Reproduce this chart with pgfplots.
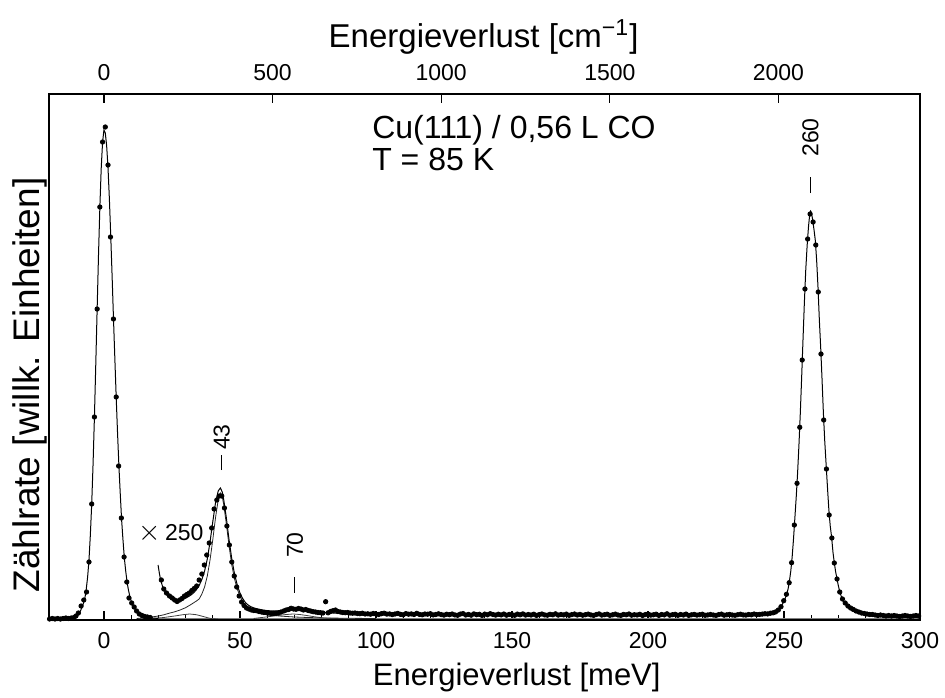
\documentclass[border=0pt]{standalone}
\usepackage{fontspec}
\setmainfont{Liberation Sans}
\usepackage{pgfplots}
\pgfplotsset{compat=1.18}
\begin{document}
\begin{tikzpicture}
\begin{axis}[
  scale only axis, width=435.5pt, height=263pt,
  xmin=-20.2, xmax=300, ymin=0, ymax=526,
  axis line style={line width=0.8pt},
  xtick={0,50,...,300}, minor x tick num=4,
  xtick pos=bottom, ytick=\empty,
  tick align=inside,
  major tick length=4.5pt, minor tick length=2.5pt,
  every tick/.style={black, line width=0.6pt},
  /pgf/number format/assume math mode=true,
  /pgf/number format/1000 sep={},
  xticklabel style={font=\fontsize{11.5}{12}\selectfont, yshift=-2.5pt},
  xlabel={Energieverlust [meV]},
  xlabel style={font=\fontsize{15.5}{17}\selectfont, at={(axis description cs:0.537,0)}, anchor=center, yshift=-28.5pt},
  ylabel={Zählrate [willk. Einheiten]},
  ylabel style={font=\fontsize{18.5}{20}\selectfont, at={(axis description cs:-0.0218,0.447)}, anchor=center},
]
\coordinate (bl) at (rel axis cs:0,0);
\coordinate (tr) at (rel axis cs:1,1);
% baseline component
\addplot[gray, line width=0.4pt] coordinates {(12,1.8) (300,1.8)};
% component 30 meV
\addplot[black!75, line width=0.4pt] coordinates {
(14,1) (18,1.5) (22,2.5) (26,4) (29,5.3) (31.5,6) (34,5.3) (36.5,3.5) (38.5,2) (40,1.2) (42,1)};
% component 70 meV
\addplot[black!75, line width=0.4pt] coordinates {
(55,1.5) (58,2.5) (61,3.5) (64,4.5) (67,5.5) (69.5,6) (72,5.5) (75,4.3) (78,3) (81,2) (84,1.5) (88,1.2)};
% component 43 meV
\addplot[black!85, line width=0.4pt] coordinates {
(12,1.5) (14,2) (16,2.5) (18,3.2) (20,4) (22,5.2) (24,6.8) (26,8.2) (28,10) (30,12.3) (32,15.5) (34,19)
(35,21) (36,26) (37,33) (38,44) (39,60) (40,80) (41,102) (42,120) (42.8,127) (43.5,123) (44,116)
(45,96) (46,74) (47,55) (48,41) (49,31) (50,24) (51,18.5) (52,15) (53,12.5) (54,10.5) (56,8.2)
(58,6.6) (60,5.5) (62,4.7) (65,3.9) (70,3) (75,2.5) (80,2.1) (90,1.7) (100,1.5)};
% elastic fit
\addplot[black, line width=0.5pt] coordinates {
(-20.2,0.5) (-14,0.8) (-12,1.2) (-11,2) (-10,3.5) (-9.5,5) (-9,7) (-8.5,10) (-8,13) (-7.5,17) (-7,22)
(-6.5,31) (-6,43) (-5.5,60) (-5,85) (-4.5,116) (-4,156) (-3.5,203) (-3,256) (-2.5,311) (-2,365)
(-1.5,413) (-1,452) (-0.5,478) (0,490) (0.5,487) (1,474) (1.5,452) (2,421) (2.5,384) (3,344)
(3.5,302) (4,262) (4.5,223) (5,187) (5.5,154) (6,126) (6.5,100) (7,80) (7.5,62) (8,49) (8.5,38)
(9,30) (9.5,24) (10,19) (10.5,15.5) (11,12.5) (12,8.5) (13,6) (14,4.5) (15,3.5) (16,2.8) (18,2) (20,1.5)};
% x250 total fit
\addplot[black, line width=0.5pt] coordinates {
(19.9,55) (20.3,48) (20.7,42) (21,38.5) (21.5,34) (22,30.5) (23,25.5) (24,22.5) (25,20.5) (26,19.5)
(27,19.3) (28,19.7) (29,20.5) (30,21.8) (31,23.3) (32,25) (33,27.3) (34,30.3) (35,34.5) (36,40.5)
(37,49) (38,61) (39,78) (40,98) (41,117) (42,129) (42.8,132) (43.5,128) (44,121) (45,102) (46,80)
(47,61) (48,46) (49,35) (50,27) (51,21.5) (52,17.5) (53,15) (54,13.3) (55,12.2) (56,11.4) (58,10.2)
(60,9.4) (62,9) (64,9.1) (66,9.6) (68,10.1) (70,10.3) (72,10) (74,9.4) (76,8.7) (78,8.1) (80,7.6)
(85,6.9) (90,6.5) (100,6) (120,5.6) (150,5.3) (180,5.1) (210,5) (230,5.1) (240,5.6) (244,6.5)
(246,7.5) (247,8.5) (248,10) (249,13.5) (250,19) (250.5,22) (251,26) (251.5,31) (252,39) (252.5,49)
(253,63) (253.5,81) (254,102) (254.5,123) (255,147) (255.5,175) (256,207) (256.5,243) (257,281)
(257.5,318) (258,350) (258.5,374) (259,393) (259.5,407) (259.8,409) (260,408) (260.5,401) (261,391)
(261.5,380) (262,360) (262.5,333) (263,300) (263.5,272) (264,240) (264.5,206) (265,178) (265.5,155)
(266,132) (266.5,110) (267,94) (267.5,83) (268,68) (268.5,57) (269,48) (269.5,41) (270,34)
(270.5,28.5) (271,24) (271.5,21) (272,18.5) (273,15) (274,12.5) (276,9.5) (278,7.5) (280,6.3)
(285,5) (290,4.5) (300,4)};
% elastic data
\addplot[only marks, mark=*, mark size=1.1pt, black] coordinates {
(-20,1) (-19,1.5) (-18,1) (-17,1.5) (-16,1) (-15,1.5) (-14,2) (-13,1.5) (-12,2) (-11,2.5) (-10.3,4)
(-9.4,7) (-8.4,14) (-7.4,20) (-6.4,28) (-5.5,58) (-4.5,116) (-3.5,203) (-2.5,311) (-1.5,413)
(-0.5,478) (0.5,493) (1.5,455) (2.4,383) (3.5,301) (4.5,223) (5.4,154) (6.4,102) (7.4,63)
(8.4,38) (9.2,22) (10.2,17) (11.1,13) (12,9) (13,6) (14,4.5) (15,3.5) (16,3) (17,2.5)};
% x250 data
\addplot[only marks, mark=*, mark size=1.1pt, black] table {
x y
21.1 40
22.0 31
23.0 27
24.1 24
25.1 22
26.0 20
26.9 18.5
27.8 20
28.7 21.5
29.6 24
30.5 25.5
31.4 27
32.3 29.5
33.2 31.5
34.1 34
35.0 40
36.0 46
36.9 55
37.8 65
38.7 77
39.6 92
40.5 111
41.5 120
42.4 124
43.3 124
44.3 112
45.2 94
46.1 75
47.0 58
47.9 44
48.8 33
49.7 24
50.6 18
51.5 14.5
52.4 12
53.3 11
54.2 10
55.1 9.5
56.0 9.3
57.0 8.5
57.9 8
58.8 7.5
59.7 7.3
60.6 7
61.5 6.5
62.4 6.6
63.3 6.8
64.2 7.2
65.1 8
66.1 9
67.0 10
67.9 10.5
68.8 11.7
69.7 11
70.6 10.7
71.5 11.5
72.4 11
73.3 10
74.2 10.5
75.1 9.5
76.0 9
76.9 8.3
77.8 8
78.7 7.5
79.6 7.3
80.5 7
81.5 18.3
82.4 7.2
83.3 8.5
84.2 9.3
85.1 10
86.0 8.5
86.9 8
87.8 7.5
88.7 7.3
89.6 7.5
90.5 7
91.4 6.8
92.3 7
93.2 6.5
94.1 6.3
95.0 6.8
96.0 6
97 6.2
98 5.8
99 6.5
100 6
101 5.5
102 6.3
103 6.8
104 5.9
105 6.1
106 5.4
107 6
108 6.6
109 5.7
110 5.2
111 6.4
112 5.8
113 6.1
114 5.5
115 6.7
116 5.6
117 5.2
118 6
119 5.8
120 6.3
121 5.1
122 5.5
123 6.2
124 5.4
125 4.9
126 5.8
127 5.3
128 6
129 5.1
130 4.7
131 5.9
132 6.4
133 5
134 5.6
135 4.8
136 6.1
137 5.3
138 5.7
139 4.6
140 5.9
141 5.2
142 6.3
143 5.5
144 4.9
145 5.8
146 5.1
147 6
148 4.8
149 5.6
150 5.3
151 4.7
152 5.9
153 5.2
154 6.1
155 4.9
156 5.5
157 5
158 5.8
159 4.6
160 5.4
161 6
162 5.1
163 4.8
164 5.7
165 5.2
166 6.2
167 4.9
168 5.5
169 5.1
170 5.9
171 4.7
172 5.4
173 6
174 5
175 5.6
176 4.8
177 5.3
178 5.9
179 5.1
180 4.6
181 5.5
182 6.1
183 4.9
184 5.3
185 5.8
186 4.7
187 5.2
188 5.9
189 5
190 4.6
191 5.6
192 5.2
193 6
194 4.8
195 5.3
196 5
197 5.7
198 4.5
199 5.4
200 5.9
201 4.9
202 5.2
203 5.8
204 4.6
205 5.5
206 5.1
207 6.2
208 4.8
209 5.3
210 5.7
211 4.7
212 5.5
213 5
214 5.9
215 4.6
216 5.2
217 5.6
218 4.9
219 5.3
220 5.8
221 4.7
222 5.1
223 5.5
224 5
225 4.6
226 5.4
227 5.9
228 4.8
229 5.2
230 5.6
231 5
232 4.7
233 5.3
234 5.8
235 5.1
236 4.9
237 5.5
238 5.2
239 6
240 5.4
241 5.6
242 5.9
243 6.3
244 6.1
245 6.8
246 7.2
246.9 8.1
247.9 10
248.9 13.3
249.9 19.3
250.9 25.7
251.9 37.3
252.8 57.3
253.8 95
254.8 136.7
255.8 192.7
256.7 260
257.7 331
258.7 381
259.6 406
260.7 398
261.7 375
262.6 328
263.6 266
264.6 200
265.6 151
266.6 105
267.6 82
268.5 57
269.5 41
270.5 28
271.5 21
272.5 17
273.5 14
274.5 12
275.5 10.5
276.5 9
277.5 8
278.5 7
279.5 6.5
280.5 6
281.5 5.5
282.5 5.5
283.5 5
284.5 4.5
285.5 5
286.5 4.5
287.5 4
288.5 4.5
289.5 4
290.5 4.5
291.5 4
292.5 3.5
293.5 4
294.5 4.5
295.5 4
296.5 3.5
297.5 4
298.5 4.5
299.5 4
};
% annotations
\node[rotate=90, inner sep=0pt, font=\fontsize{11.5}{12}\selectfont] at (axis cs:259.7,482.5) {260};
\draw[line width=0.5pt] (axis cs:259.7,427) -- (axis cs:259.7,443);
\node[rotate=90, inner sep=0pt, font=\fontsize{11.5}{12}\selectfont] at (axis cs:43.3,183) {43};
\draw[line width=0.5pt] (axis cs:43.2,150) -- (axis cs:43.2,165);
\node[rotate=90, inner sep=0pt, font=\fontsize{11.5}{12}\selectfont] at (axis cs:70.2,75) {70};
\draw[line width=0.5pt] (axis cs:69.9,27.3) -- (axis cs:69.9,43.3);
\node[anchor=east, inner sep=0pt, font=\fontsize{11.5}{12}\selectfont] at (axis cs:36.7,86.5) {{\fontsize{14}{14}\selectfont$\times$}\,250};
\node[anchor=base west, inner sep=0pt, font=\fontsize{16}{18}\selectfont] at (axis cs:98.5,481.7) {Cu(111) / 0,56 L CO};
\node[anchor=base west, inner sep=0pt, font=\fontsize{16}{18}\selectfont] at (axis cs:98.5,449.3) {T = 85 K};
\end{axis}
\begin{axis}[
  scale only axis, width=435.5pt, height=263pt,
  xmin=-162.9, xmax=2419.65, ymin=0, ymax=1,
  axis line style={line width=0.8pt},
  xtick={0,500,...,2000}, xtick pos=top, xticklabel pos=top,
  ytick=\empty, tick align=inside,
  major tick length=4.5pt,
  every tick/.style={black, line width=0.6pt},
  /pgf/number format/assume math mode=true,
  /pgf/number format/1000 sep={},
  xticklabel style={font=\fontsize{11.5}{12}\selectfont, yshift=3pt},
  xlabel={Energieverlust [cm\textsuperscript{−1}]},
  xlabel style={font=\fontsize{16.5}{18}\selectfont, at={(axis description cs:0.499,1)}, anchor=center, yshift=28.5pt},
]
\end{axis}
\pgfresetboundingbox
\path[use as bounding box] ([shift={(-24.5pt,-39pt)}]bl) rectangle ([shift={(12.5pt,47pt)}]tr);
\end{tikzpicture}
\end{document}
